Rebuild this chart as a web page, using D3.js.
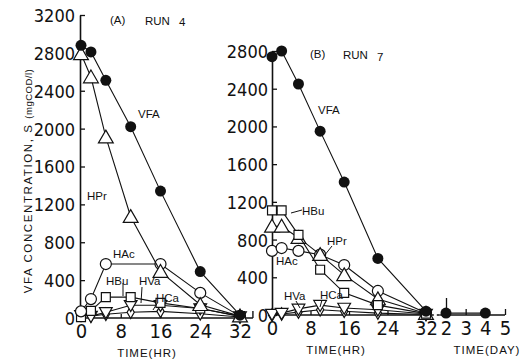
<!DOCTYPE html>
<html><head><meta charset="utf-8">
<script src="https://cdn.jsdelivr.net/npm/d3@7"></script>
<style>
body{margin:0;background:#fff;}
svg{display:block;}
.tk text{font-family:"Liberation Sans Narrow","Arial Narrow","DejaVu Sans Condensed",sans-serif;fill:#111;}
.lbl{font-family:"Liberation Sans","Arial",sans-serif;font-size:11.5px;fill:#111;}
</style></head>
<body><svg id="c" width="531" height="359"></svg>
<script>
// ---- Data ----
// Panel A: RUN 4, time in hours
const timesA = [0, 2, 5, 10, 16, 24, 32];
const vfaA  = [2880, 2810, 2510, 2020, 1340, 490, 30];
const hprA  = [2790, 2545, 1910, 1070, 490, 140, 20];
const hacTimesA = [0, 2, 5, 16, 24, 32];
const hacA  = [70, 200, 570, 570, 265, 20];
const hbuA  = [10, 75, 220, 220, 160, 100, 20];
const hvaA  = [30, 20, 60, 135, 135, 100, 15];
const hcaA  = [60, 20, 40, 60, 70, 45, 10];

// Panel B: RUN 7, time in hours (+ days)
const timesB = [0, 2, 5.5, 10, 15, 22, 32];
const vfaB  = [2740, 2800, 2450, 1950, 1410, 600, 40];
const hbuB  = [1110, 1110, 850, 480, 235, 105, 15];
const hprB  = [940, 940, 820, 640, 425, 170, 15];
const hacB  = [680, 710, 680, 640, 530, 255, 20];
const hvaB  = [10, 20, 65, 105, 75, 55, 10];
const hcaB  = [0, 10, 30, 55, 40, 20, 5];
const daysB = [2, 4];
const vfaDaysB = [20, 20];

const yTicksA = [0, 400, 800, 1200, 1600, 2000, 2400, 2800, 3200];
const yTicksB = [0, 400, 800, 1200, 1600, 2000, 2400, 2800];
const xTicksHr = [0, 8, 16, 24, 32];
const xTicksDay = [2, 3, 4, 5];

// ---- Drawing ----
const svg = d3.select("#c");
svg.append("rect").attr("width",531).attr("height",359).attr("fill","#fff");

const xA = d3.scaleLinear().domain([0,32]).range([81,240]);
const yA = d3.scaleLinear().domain([0,3200]).range([318,15]);
const xB = d3.scaleLinear().domain([0,32]).range([272,426]);
const yB = d3.scaleLinear().domain([0,2800]).range([315,51]);
const xD = d3.scaleLinear().domain([2,5]).range([446,505]);
const fmt = d3.format("d");

function styleAxis(g, fs){
  g.attr("class","tk");
  g.selectAll("path").attr("stroke","#111").attr("stroke-width",1.6);
  g.selectAll("line").attr("stroke","#111").attr("stroke-width",1.3);
  g.selectAll("text").attr("font-size",fs);
}

// Y axes
const gyA = svg.append("g").attr("transform",`translate(${xA(0)-1},0)`)
  .call(d3.axisLeft(yA).tickValues(yTicksA).tickSizeInner(-5).tickSizeOuter(0).tickPadding(5).tickFormat(fmt));
styleAxis(gyA, 18);
gyA.selectAll("text").attr("dy","0.36em");

const gyB = svg.append("g").attr("transform",`translate(${xB(0)},0)`)
  .call(d3.axisLeft(yB).tickValues(yTicksB).tickSizeInner(-5).tickSizeOuter(0).tickPadding(4).tickFormat(fmt));
styleAxis(gyB, 18);
gyB.selectAll("text").attr("dy","0.36em");

// X axes
const gxA = svg.append("g").attr("transform",`translate(0,${yA(0)})`)
  .call(d3.axisBottom(xA).tickValues(xTicksHr).tickSizeInner(-4).tickSizeOuter(0).tickPadding(6).tickFormat(fmt));
styleAxis(gxA, 20);
gxA.select(".domain").remove();
gxA.selectAll(".tick").filter(d=>d===0).select("line").remove();
svg.append("line").attr("x1",xA(0)-1).attr("x2",xA(34.6)).attr("y1",yA(0)).attr("y2",yA(0)).attr("stroke","#111").attr("stroke-width",1.6);
svg.append("line").attr("x1",xA(34.6)).attr("x2",xA(34.6)).attr("y1",yA(0)).attr("y2",yA(0)-7).attr("stroke","#111").attr("stroke-width",1.4);

const gxB = svg.append("g").attr("transform",`translate(0,${yB(0)})`)
  .call(d3.axisBottom(xB).tickValues(xTicksHr).tickSizeInner(-4).tickSizeOuter(0).tickPadding(6).tickFormat(fmt));
styleAxis(gxB, 20);
gxB.select(".domain").remove();
gxB.selectAll(".tick").filter(d=>d===0).select("line").remove();
svg.append("line").attr("x1",xB(0)).attr("x2",xB(33)).attr("y1",yB(0)).attr("y2",yB(0)).attr("stroke","#111").attr("stroke-width",1.6);
svg.append("line").attr("x1",xB(33)).attr("x2",xD(1.7)).attr("y1",yB(0)).attr("y2",yB(0)).attr("stroke","#111").attr("stroke-width",1.4).attr("stroke-dasharray","3,3");

const gxD = svg.append("g").attr("transform",`translate(0,${yB(0)})`)
  .call(d3.axisBottom(xD).tickValues(xTicksDay).tickSizeInner(-6).tickSizeOuter(0).tickPadding(6).tickFormat(fmt));
styleAxis(gxD, 20);
gxD.select(".domain").remove();
gxD.selectAll(".tick").filter(d=>d===2).select("line").attr("y2",-17);
svg.append("line").attr("x1",xD(1.7)).attr("x2",xD(5)).attr("y1",yB(0)).attr("y2",yB(0)).attr("stroke","#111").attr("stroke-width",1.6);

// series helpers
const line = (xs, ys, x, y) => d3.line().x((d,i)=>x(xs[i])).y((d,i)=>y(ys[i]))(ys);
function drawSeries(xs, ys, x, y, type){
  svg.append("path").attr("d", line(xs,ys,x,y)).attr("fill","none").attr("stroke","#111").attr("stroke-width",1.1);
  const g = svg.append("g");
  ys.forEach((v,i)=>{
    const cx = x(xs[i]), cy = y(v);
    if(type==="filled"){
      g.append("circle").attr("cx",cx).attr("cy",cy).attr("r",5.5).attr("fill","#111");
    } else if(type==="circle"){
      g.append("circle").attr("cx",cx).attr("cy",cy).attr("r",5.5).attr("fill","#fff").attr("stroke","#111").attr("stroke-width",1.2);
    } else {
      const sym = {tri:d3.symbolTriangle, inv:d3.symbolTriangle, sq:d3.symbolSquare, dia:d3.symbolDiamond}[type];
      const size = {tri:95, inv:70, sq:80, dia:45}[type];
      const rot = type==="inv" ? 180 : 0;
      const dy = type==="tri" ? 1.5 : (type==="inv" ? -1 : 0);
      g.append("path").attr("d", d3.symbol().type(sym).size(size)())
        .attr("transform",`translate(${cx},${cy+dy}) rotate(${rot})`)
        .attr("fill","#fff").attr("stroke","#111").attr("stroke-width",1.2);
    }
  });
}

// Panel A
drawSeries(timesA, hcaA, xA, yA, "dia");
drawSeries(timesA, hvaA, xA, yA, "inv");
drawSeries(timesA, hbuA, xA, yA, "sq");
drawSeries(hacTimesA, hacA, xA, yA, "circle");
drawSeries(timesA, hprA, xA, yA, "tri");
drawSeries(timesA, vfaA, xA, yA, "filled");

// Panel B
drawSeries(timesB, hcaB, xB, yB, "dia");
drawSeries(timesB, hvaB, xB, yB, "inv");
drawSeries(timesB, hacB, xB, yB, "circle");
drawSeries(timesB, hprB, xB, yB, "tri");
drawSeries(timesB, hbuB, xB, yB, "sq");
drawSeries(timesB, vfaB, xB, yB, "filled");
svg.append("line").attr("x1",xD(daysB[0])).attr("x2",xD(daysB[1])).attr("y1",yB(vfaDaysB[0])).attr("y2",yB(vfaDaysB[1])).attr("stroke","#111").attr("stroke-width",1.4);
daysB.forEach((d,i)=>svg.append("circle").attr("cx",xD(d)).attr("cy",yB(vfaDaysB[i])).attr("r",5.5).attr("fill","#111"));

// Labels
function txt(x,y,s,fs,extra){
  const t = svg.append("text").attr("x",x).attr("y",y).attr("class","lbl").text(s);
  if(fs) t.attr("font-size",fs);
  if(extra) extra(t);
  return t;
}
function lead(x1,y1,x2,y2){
  svg.append("line").attr("x1",x1).attr("y1",y1).attr("x2",x2).attr("y2",y2).attr("stroke","#111").attr("stroke-width",1);
}
// titles
txt(110,24,"(A)",13);
txt(145,25,"RUN",11);
txt(179,26,"4",17);
txt(310,58,"(B)",13);
txt(343,59,"RUN",11);
txt(377,61,"7",17);

// Panel A labels
txt(138,118,"VFA",12.5);
txt(87,200,"HPr",12);
txt(113,258,"HAc",12);
txt(106,285,"HBu",12);
txt(139,285,"HVa",12);
txt(156,302,"HCa",12);
lead(123,283,123,296);
lead(142,287,141,303);
lead(158,302,153,310);

// Panel B labels
txt(318,114,"VFA",12.5);
txt(302,215,"HBu",12);
lead(291,213,302,210);
txt(327,245,"HPr",12);
lead(332,246,324,256);
txt(276,265,"HAc",12);
txt(284,300,"HVa",12);
lead(296,301,300,308);
txt(320,299,"HCa",12);
lead(322,300,320,307);

// axis titles
txt(147,357,"TIME(HR)",12.5, t=>t.attr("text-anchor","middle").attr("letter-spacing",1));
txt(336,354,"TIME(HR)",12.5, t=>t.attr("text-anchor","middle").attr("letter-spacing",1));
txt(487,354,"TIME(DAY)",12.5, t=>t.attr("text-anchor","middle").attr("letter-spacing",1));

// y axis title
const yt = svg.append("text").attr("class","lbl").attr("transform","translate(32,181) rotate(-90)")
  .attr("text-anchor","middle");
yt.append("tspan").attr("font-size",11.5).attr("letter-spacing",1.6).text("VFA CONCENTRATION, S ");
yt.append("tspan").attr("font-size",9.5).attr("letter-spacing",0.5).text("(mgCOD/l)");
</script></body></html>
